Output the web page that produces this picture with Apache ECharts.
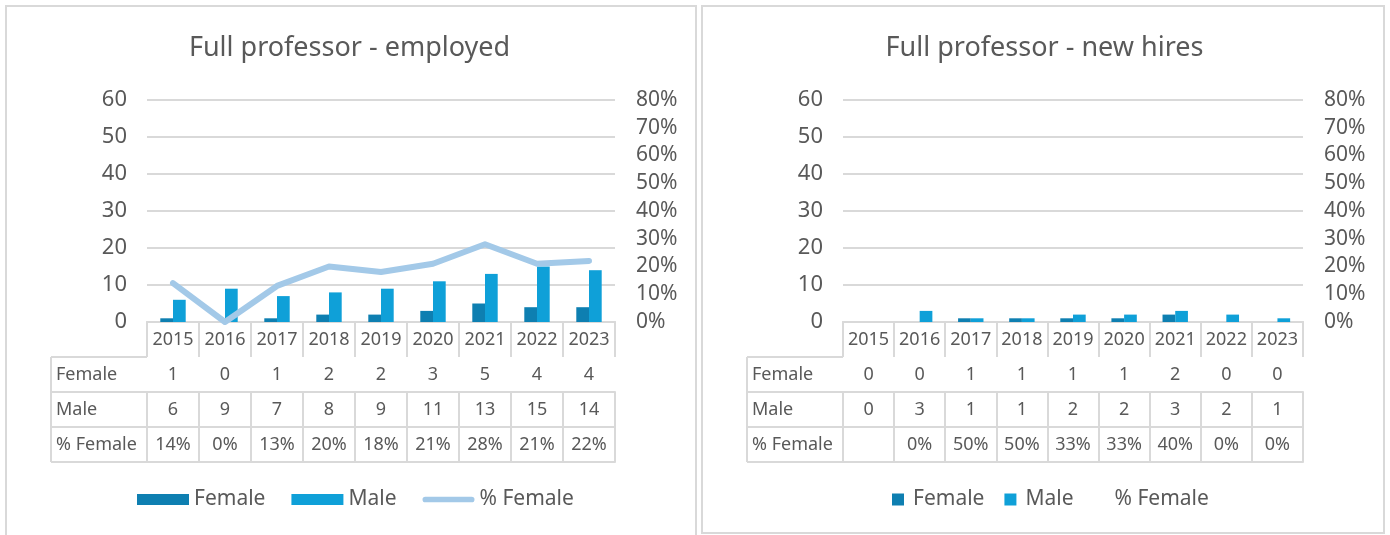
<!DOCTYPE html>
<html>
<head>
<meta charset="utf-8">
<title>Full professor</title>
<script src="https://cdn.jsdelivr.net/npm/echarts@6/dist/echarts.min.js"></script>
<style>
  html, body { margin: 0; padding: 0; background: #fff; width: 1390px; height: 535px; overflow: hidden; }
  .chart { position: absolute; top: 0; height: 535px; }
  .frame { position: absolute; border: 2px solid #d9d9d9; box-sizing: border-box; pointer-events: none; }
</style>
</head>
<body>
<div id="employed" class="chart" style="left:0;width:699px"></div>
<div id="hires" class="chart" style="left:699px;width:691px"></div>
<div class="frame" style="left:5px;top:5px;width:692px;height:545px"></div>
<div class="frame" style="left:701px;top:5px;width:684px;height:529px"></div>
<script>
// ---- data ----
const years = ['2015', '2016', '2017', '2018', '2019', '2020', '2021', '2022', '2023'];
const seriesNames = ['Female', 'Male', '% Female'];

const employedFemale = [1, 0, 1, 2, 2, 3, 5, 4, 4];
const employedMale = [6, 9, 7, 8, 9, 11, 13, 15, 14];
const employedPctFemale = [0.14, 0, 0.13, 0.20, 0.18, 0.21, 0.28, 0.21, 0.22];

const hiresFemale = [0, 0, 1, 1, 1, 1, 2, 0, 0];
const hiresMale = [0, 3, 1, 1, 2, 2, 3, 2, 1];
const hiresPctFemale = [null, 0, 0.50, 0.50, 0.33, 0.33, 0.40, 0, 0];

const countAxis = { min: 0, max: 60, interval: 10 };
const shareAxis = { min: 0, max: 0.8, interval: 0.1 };

// ---- style ----
const FONT = '"Noto Sans", "Open Sans", sans-serif';
const TEXT = '#595959';
const RULE = '#d9d9d9';
const FEMALE = '#0E7FB1';
const MALE = '#0FA0D8';
const SHARE = '#A3C9E8';
const H = 535;
const ROW = 35;
// thick rounded stroke used as the legend key of the share line
const LINE_KEY = 'path://M3,0 L52,0 A3,3 0 0 1 52,6 L3,6 A3,3 0 0 1 3,0 Z';

const pct = v => (v === null || v === undefined) ? '' : Math.round(v * 100) + '%';

function build(dom, o) {
  const chart = echarts.init(dom, null, { renderer: 'canvas' });
  const base = H - o.grid.bottom;               // y of the category axis / table top
  const rowLabels = ['Female', 'Male', '% Female'];
  const rowValues = [o.female.map(String), o.male.map(String), o.pct.map(pct)];

  const cellLine = { color: RULE, width: 2 };
  const cellLabel = {
    interval: 0, color: TEXT, fontSize: 18, fontFamily: FONT,
    verticalAlign: 'middle', margin: ROW / 2
  };

  // table rows: the year header plus one axis per data row, stacked below the plot
  const xAxis = [{
    type: 'category', data: years, position: 'bottom', boundaryGap: true,
    axisLine: { show: true, lineStyle: cellLine },
    axisTick: { show: true, interval: 0, length: ROW, lineStyle: cellLine },
    axisLabel: cellLabel
  }];
  rowValues.forEach((vals, r) => {
    xAxis.push({
      type: 'category', data: years, position: 'bottom', offset: ROW * (r + 1), boundaryGap: true,
      axisLine: { show: true, lineStyle: cellLine },
      axisTick: { show: true, interval: 0, length: ROW, lineStyle: cellLine },
      axisLabel: Object.assign({}, cellLabel, { formatter: (v, i) => vals[i] })
    });
  });
  xAxis.push({
    type: 'category', data: years, position: 'bottom', offset: ROW * 4, boundaryGap: true,
    axisLine: { show: true, lineStyle: cellLine },
    axisTick: { show: false }, axisLabel: { show: false }
  });

  // row-name column at the left of the table
  const graphic = [];
  for (let r = 1; r <= 4; r++) {
    graphic.push({
      type: 'line', silent: true,
      shape: { x1: o.tableLeft, y1: base + ROW * r, x2: o.grid.left, y2: base + ROW * r },
      style: { stroke: RULE, lineWidth: 2 }
    });
  }
  graphic.push({
    type: 'line', silent: true,
    shape: { x1: o.tableLeft, y1: base + ROW, x2: o.tableLeft, y2: base + ROW * 4 },
    style: { stroke: RULE, lineWidth: 2 }
  });
  rowLabels.forEach((t, r) => {
    graphic.push({
      type: 'text', silent: true,
      x: o.tableLeft + 5, y: base + ROW * (r + 1) + ROW / 2,
      style: { text: t, fill: TEXT, font: '18px ' + FONT, verticalAlign: 'middle', align: 'left' }
    });
  });

  const legendItems = [
    { name: seriesNames[0], icon: 'rect' },
    { name: seriesNames[1], icon: 'rect' },
    o.lineVisible
      ? { name: seriesNames[2], icon: LINE_KEY, itemStyle: { color: SHARE, borderWidth: 0 } }
      : { name: seriesNames[2], icon: 'rect', itemStyle: { opacity: 0 }, lineStyle: { opacity: 0 } }
  ];

  chart.setOption({
    animation: false,
    backgroundColor: '#fff',
    title: {
      text: o.title, left: 'center', top: 30,
      textStyle: { fontSize: 27, fontWeight: 'normal', color: TEXT, fontFamily: FONT }
    },
    legend: Object.assign({
      data: legendItems,
      textStyle: { color: TEXT, fontSize: 21, fontFamily: FONT, padding: o.legendTextPad }
    }, o.legend),
    grid: Object.assign({ containLabel: false }, o.grid),
    xAxis: xAxis,
    yAxis: [{
      type: 'value', position: 'left', min: countAxis.min, max: countAxis.max, interval: countAxis.interval,
      axisLine: { show: false }, axisTick: { show: false },
      axisLabel: { color: TEXT, fontSize: 22, fontFamily: FONT, margin: 20 },
      splitLine: { lineStyle: { color: RULE, width: 2 } }
    }, {
      type: 'value', position: 'right', min: shareAxis.min, max: shareAxis.max, interval: shareAxis.interval,
      axisLine: { show: false }, axisTick: { show: false },
      axisLabel: { color: TEXT, fontSize: 21, fontFamily: FONT, margin: 21, formatter: pct },
      splitLine: { show: false }
    }],
    series: [{
      name: seriesNames[0], type: 'bar', data: o.female,
      barWidth: 12.7, barGap: '0%', itemStyle: { color: FEMALE }
    }, {
      name: seriesNames[1], type: 'bar', data: o.male,
      barWidth: 12.7, barGap: '0%', itemStyle: { color: MALE }
    }, {
      name: seriesNames[2], type: 'line', yAxisIndex: 1, data: o.pct,
      symbol: 'none', showSymbol: false, z: 3,
      itemStyle: { color: SHARE, opacity: o.lineVisible ? 1 : 0 },
      lineStyle: { color: SHARE, width: 6, cap: 'round', join: 'round', opacity: o.lineVisible ? 1 : 0 }
    }],
    graphic: graphic
  });
  return chart;
}

build(document.getElementById('employed'), {
  title: 'Full professor - employed',
  female: employedFemale, male: employedMale, pct: employedPctFemale,
  lineVisible: true,
  grid: { left: 147, right: 84, top: 100, bottom: 213 },
  tableLeft: 51,
  legend: { left: 132, top: 484, itemWidth: 52, itemHeight: 11, itemGap: 26 },
  legendTextPad: 0
});

build(document.getElementById('hires'), {
  title: 'Full professor - new hires',
  female: hiresFemale, male: hiresMale, pct: hiresPctFemale,
  lineVisible: false,
  grid: { left: 144, right: 87, top: 100, bottom: 213 },
  tableLeft: 48,
  legend: { left: 188, top: 484, itemWidth: 12, itemHeight: 12, itemGap: 20 },
  legendTextPad: [0, 0, 0, 4]
});
</script>
</body>
</html>
